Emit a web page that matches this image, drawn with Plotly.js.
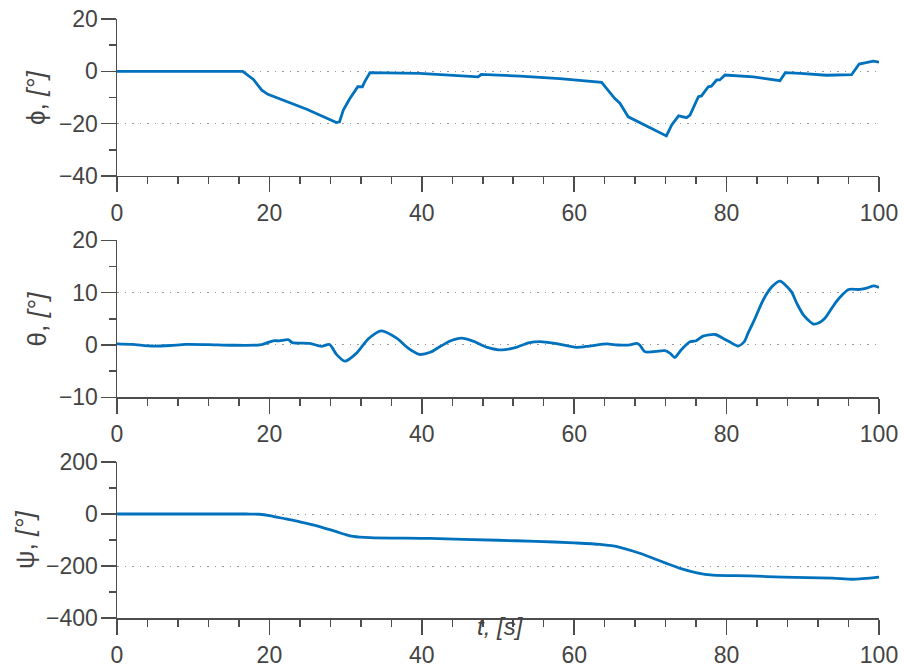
<!DOCTYPE html>
<html>
<head>
<meta charset="utf-8">
<script src="https://cdn.plot.ly/plotly-3.0.1.min.js"></script>
<style>
  html, body { margin: 0; padding: 0; background: #fff; }
  #chart { width: 904px; height: 669px; }
</style>
</head>
<body>
<div id="chart"></div>
<script>
// ---- data ----
const phiT = [0, 16.5, 17.9, 19.0, 19.8, 22.0, 24.9, 28.8, 29.2, 29.7, 30.5, 31.6, 32.2, 32.5, 33.2, 39.7, 41.1, 47.4, 47.8, 52.9, 58.1, 63.4, 63.6, 65.3, 66.0, 67.1, 72.1, 72.8, 73.7, 74.75, 75.2, 76.3, 76.7, 77.6, 78.0, 78.7, 79.1, 79.8, 83.5, 87.0, 87.7, 89.7, 93.1, 96.4, 97.4, 98.3, 99.25, 100];
const phiV = [0, 0, -3.1, -7.2, -8.8, -11.2, -14.5, -19.6, -19.3, -14.8, -10.7, -5.9, -5.9, -4.0, -0.5, -0.8, -1.0, -2.1, -1.2, -1.8, -2.8, -4.0, -4.2, -10.3, -12.2, -17.4, -24.7, -20.5, -17.0, -17.7, -16.7, -9.7, -9.4, -5.9, -5.7, -3.3, -3.3, -1.4, -2.1, -3.6, -0.5, -0.8, -1.5, -1.3, 2.8, 3.3, 3.9, 3.5];

const thetaT = [0, 2, 4.7, 7, 9, 12, 15, 18.7, 19.5, 20.5, 21.3, 22.5, 23.0, 25.3, 26.8, 27.9, 28.8, 29.9, 31.4, 33.0, 34.7, 36.7, 38.2, 39.7, 41.1, 42.4, 43.8, 45.2, 46.8, 48.5, 50.5, 52.5, 54, 55.5, 57.5, 60.3, 62, 64.3, 65.7, 67.3, 68.2, 68.6, 69.3, 71.9, 72.6, 73.2, 74.0, 75.2, 76.0, 76.9, 78.5, 79.5, 80.5, 81.5, 82.3, 82.8, 83.8, 84.8, 86.0, 87.0, 88.5, 89.2, 90.1, 91.4, 92.2, 92.9, 93.7, 94.4, 95.2, 96.0, 97.5, 98.5, 99.3, 100];
const thetaV = [0.2, 0.1, -0.2, -0.1, 0.1, 0.05, -0.05, 0, 0.3, 0.8, 0.8, 1.0, 0.45, 0.3, -0.25, 0.1, -1.8, -3.1, -1.6, 1.2, 2.7, 1.3, -0.6, -1.8, -1.4, -0.3, 0.8, 1.3, 0.7, -0.4, -0.95, -0.4, 0.4, 0.65, 0.3, -0.45, -0.2, 0.2, 0, 0, 0.3, 0, -1.3, -1.1, -1.6, -2.4, -1.0, 0.6, 0.8, 1.7, 2.0, 1.3, 0.5, -0.2, 0.6, 2.2, 5.3, 8.6, 11.2, 12.2, 10.2, 8.0, 5.7, 4.0, 4.3, 5.1, 6.8, 8.3, 9.6, 10.6, 10.6, 10.9, 11.3, 11.0];

const psiT = [0, 17, 18.7, 20, 22.2, 24, 25.7, 27.3, 28.8, 30, 31, 33.2, 41.1, 50, 55, 60, 63.4, 66, 68.6, 70.5, 72.1, 73.9, 76.1, 78.2, 83, 87.4, 93.9, 96.6, 100];
const psiV = [0, 0, -1, -6, -19, -30, -42, -55, -68, -79, -86, -91, -94, -101, -105, -111, -117, -128, -151, -172, -190, -209, -226, -235, -238, -243, -247, -251, -243];

const xTicks = [0, 20, 40, 60, 80, 100];
const phiTicks = [-40, -20, 0, 20];
const thetaTicks = [-10, 0, 10, 20];
const psiTicks = [-400, -200, 0, 200];

const yTitles = ['ϕ, <i>[°]</i>', 'θ, <i>[°]</i>', 'ψ, <i>[°]</i>'];
const xTitle = '<i>t, [s]</i>';

// ---- style ----
const LINE = '#0072BD';
const AX = '#4d4d4d';
const FONT = '"Liberation Sans", Arial, Helvetica, sans-serif';

function tickLabels(v) { return v.map(n => n < 0 ? '\u2212' + Math.abs(n) : String(n)); }

function xAxis(anchor) {
  return {
    anchor: anchor, range: [0, 100], tickvals: xTicks, ticktext: tickLabels(xTicks),
    showline: true, linecolor: AX, linewidth: 1.5, mirror: false,
    ticks: 'outside', ticklen: 15, tickwidth: 1.5, tickcolor: AX,
    tickfont: {size: 23, color: '#444', family: FONT},
    showgrid: false, zeroline: false, ticklabelstandoff: 1,
    minor: {ticks: 'outside', ticklen: 7, tickwidth: 1.5, tickcolor: AX, dtick: 4, tick0: 0, showgrid: false}
  };
}
function yAxis(anchor, domain, range, ticks, minorD) {
  return {
    anchor: anchor, domain: domain, range: range, tickvals: ticks, ticktext: tickLabels(ticks),
    showline: true, linecolor: AX, linewidth: 1.5, mirror: false,
    ticks: 'outside', ticklen: 15, tickwidth: 1.5, tickcolor: AX,
    tickfont: {size: 23, color: '#444', family: FONT},
    showgrid: true, gridcolor: '#999', gridwidth: 1, griddash: '1.5px,6px',
    zeroline: false, ticklabelstandoff: -2,
    minor: {ticks: 'outside', ticklen: 7, tickwidth: 1.5, tickcolor: AX, dtick: minorD, tick0: 0, showgrid: false}
  };
}

const traces = [
  {x: phiT, y: phiV, xaxis: 'x', yaxis: 'y', mode: 'lines', line: {color: LINE, width: 2.8}},
  {x: thetaT, y: thetaV, xaxis: 'x2', yaxis: 'y2', mode: 'lines', line: {color: LINE, width: 2.8, shape: 'spline', smoothing: 0.7}},
  {x: psiT, y: psiV, xaxis: 'x3', yaxis: 'y3', mode: 'lines', line: {color: LINE, width: 2.8, shape: 'spline', smoothing: 0.7}}
];

const yTitleFont = {size: 26, color: '#444', family: FONT};
const xTitleFont = {size: 24, color: '#444', family: FONT};
const layout = {
  width: 904, height: 669,
  margin: {l: 117, r: 25, t: 19, b: 51},
  paper_bgcolor: '#fff', plot_bgcolor: '#fff',
  showlegend: false,
  font: {family: FONT, color: '#444'},
  xaxis: xAxis('y'),
  yaxis: yAxis('x', [0.7379, 1], [-40, 20], phiTicks, 10),
  xaxis2: xAxis('y2'),
  yaxis2: yAxis('x2', [0.3684, 0.6306], [-10, 20], thetaTicks, 5),
  xaxis3: xAxis('y3'),
  yaxis3: yAxis('x3', [0, 0.2604], [-400, 200], psiTicks, 100),
  annotations: [
    {text: yTitles[0], xref: 'paper', yref: 'paper', x: -0.1055, y: 0.869, textangle: -90, showarrow: false, xanchor: 'center', yanchor: 'middle', font: yTitleFont},
    {text: yTitles[1], xref: 'paper', yref: 'paper', x: -0.1055, y: 0.4995, textangle: -90, showarrow: false, xanchor: 'center', yanchor: 'middle', font: yTitleFont},
    {text: yTitles[2], xref: 'paper', yref: 'paper', x: -0.1207, y: 0.1302, textangle: -90, showarrow: false, xanchor: 'center', yanchor: 'middle', font: yTitleFont},
    {text: xTitle, xref: 'paper', yref: 'paper', x: 0.503, y: -0.0134, showarrow: false, xanchor: 'center', yanchor: 'middle', font: xTitleFont}
  ]
};

Plotly.newPlot('chart', traces, layout, {staticPlot: true, displayModeBar: false});
</script>
</body>
</html>
